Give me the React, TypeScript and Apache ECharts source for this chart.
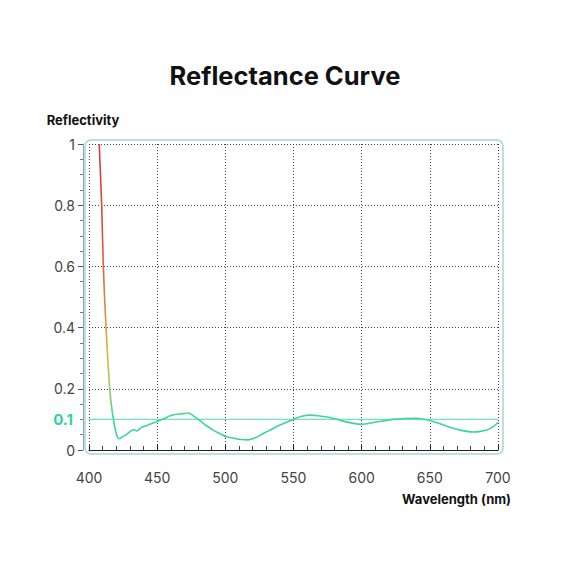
import React, { useEffect, useRef } from "react";
import * as echarts from "echarts";

const wavelengths = [
  407.5, 409.3, 410.5, 412.5, 415.4, 417.4, 419.1, 420.6, 422.2, 424.5, 426.4, 429, 431.3, 433, 435,
  436.8, 438.6, 441.5, 444.7, 450.8, 455, 459.4, 464.3, 468, 472.8, 477, 481.4, 486, 491.1, 496.1,
  501, 505.8, 510, 516.8, 522, 527.8, 534, 540.1, 549.9, 556, 562.1, 568, 576.8, 585, 593.9, 600,
  608.6, 623.3, 632, 640.4, 646, 651.4, 658, 664.8, 672, 681.8, 686, 691.6, 696, 700,
];
const reflectivity = [
  1.0, 0.8, 0.6, 0.4, 0.19, 0.114, 0.071, 0.045, 0.037, 0.043, 0.048, 0.056, 0.064, 0.066, 0.062,
  0.068, 0.074, 0.079, 0.084, 0.095, 0.102, 0.112, 0.117, 0.118, 0.121, 0.11, 0.096, 0.08, 0.065,
  0.053, 0.043, 0.039, 0.035, 0.033, 0.04, 0.054, 0.068, 0.082, 0.1, 0.11, 0.114, 0.112, 0.106,
  0.096, 0.087, 0.084, 0.09, 0.1, 0.103, 0.104, 0.1, 0.095, 0.085, 0.074, 0.065, 0.059, 0.06, 0.065,
  0.075, 0.09,
];
const referenceLevel = 0.1;
const xTicks = { min: 400, max: 700, interval: 50 };
const yTicks = { min: 0, max: 1, interval: 0.2 };

const FONT = "Inter, 'Open Sans', sans-serif";

export default function App() {
  const ref = useRef<HTMLDivElement>(null);
  useEffect(() => {
    document.body.style.margin = "0";
    if (!ref.current) return;
    const chart = echarts.init(ref.current, undefined, { renderer: "svg" });
    const data = wavelengths.map((w, i) => [w, reflectivity[i]]);
    const refLine = [
      {
        value: [xTicks.min, referenceLevel],
        label: {
          show: true,
          position: "left",
          distance: 16,
          formatter: String(referenceLevel),
          color: "#2fd39c",
          fontFamily: FONT,
          fontSize: 15,
          fontWeight: "bold",
        },
      },
      { value: [xTicks.max, referenceLevel] },
    ];
    chart.setOption({
      animation: false,
      backgroundColor: "#ffffff",
      title: {
        text: "Reflectance Curve",
        left: "center",
        top: 57,
        textStyle: { fontFamily: FONT, fontSize: 25.5, fontWeight: "bold", color: "#111" },
      },
      grid: { left: 89, right: 72, top: 144, bottom: 120, containLabel: false },
      graphic: [
        {
          type: "rect",
          shape: { x: 85, y: 140, width: 418, height: 314, r: 6 },
          style: { fill: "none", stroke: "#a9d2de", lineWidth: 1.5 },
          silent: true,
          z: 0,
        },
        {
          type: "text",
          x: 511,
          y: 499,
          style: {
            text: "Wavelength (nm)",
            align: "right",
            verticalAlign: "middle",
            fontFamily: FONT,
            fontSize: 13,
            fontWeight: "bold",
            fill: "#111",
          },
        },
      ],
      visualMap: {
        show: false,
        type: "continuous",
        dimension: 1,
        min: 0,
        max: 1,
        seriesIndex: 0,
        inRange: {
          color: [
            "#33d4a2",
            "#3fd49a",
            "#9ccc55",
            "#d0bf3e",
            "#d6a03c",
            "#d8823a",
            "#d8663a",
            "#d8523a",
            "#d8463a",
            "#d8403a",
            "#d83c3a",
          ],
        },
      },
      xAxis: {
        type: "value",
        min: xTicks.min,
        max: xTicks.max,
        interval: xTicks.interval,
        offset: 8,
        axisLine: { show: true, lineStyle: { color: "#222", width: 1.2 } },
        axisTick: { show: true, inside: true, length: 5, lineStyle: { color: "#222" } },
        minorTick: { show: true, splitNumber: 5, length: 4, lineStyle: { color: "#444" } },
        axisLabel: { fontFamily: FONT, fontSize: 14, color: "#444", margin: 12 },
        splitLine: { show: true, lineStyle: { type: [1, 2], color: "#444", width: 1 } },
      },
      yAxis: {
        type: "value",
        min: yTicks.min,
        max: yTicks.max,
        interval: yTicks.interval,
        offset: 6,
        name: "Reflectivity",
        nameLocation: "end",
        nameGap: 18,
        nameTextStyle: {
          fontFamily: FONT,
          fontSize: 13,
          fontWeight: "bold",
          color: "#111",
          align: "center",
        },
        axisLine: { show: true, lineStyle: { color: "#8aa8b4", width: 1 } },
        axisTick: { show: true, inside: false, length: 5, lineStyle: { color: "#555" } },
        minorTick: { show: true, splitNumber: 4, length: 3, lineStyle: { color: "#777" } },
        axisLabel: {
          fontFamily: FONT,
          fontSize: 14,
          color: "#444",
          margin: 8,
          formatter: (v: number) => String(+v.toFixed(2)),
        },
        splitLine: { show: true, lineStyle: { type: [1, 2], color: "#444", width: 1 } },
      },
      series: [
        {
          type: "line",
          data,
          smooth: 0.3,
          showSymbol: false,
          lineStyle: { width: 1.6 },
          z: 3,
        },
        {
          type: "line",
          data: refLine,
          symbol: "circle",
          symbolSize: 0,
          showSymbol: true,
          silent: true,
          color: "#6fe3bf",
          lineStyle: { color: "#6fe3bf", width: 1.2 },
          label: { show: false },
          z: 2,
        },
      ],
    });
    return () => chart.dispose();
  }, []);
  return <div ref={ref} style={{ width: 570, height: 570 }} />;
}
